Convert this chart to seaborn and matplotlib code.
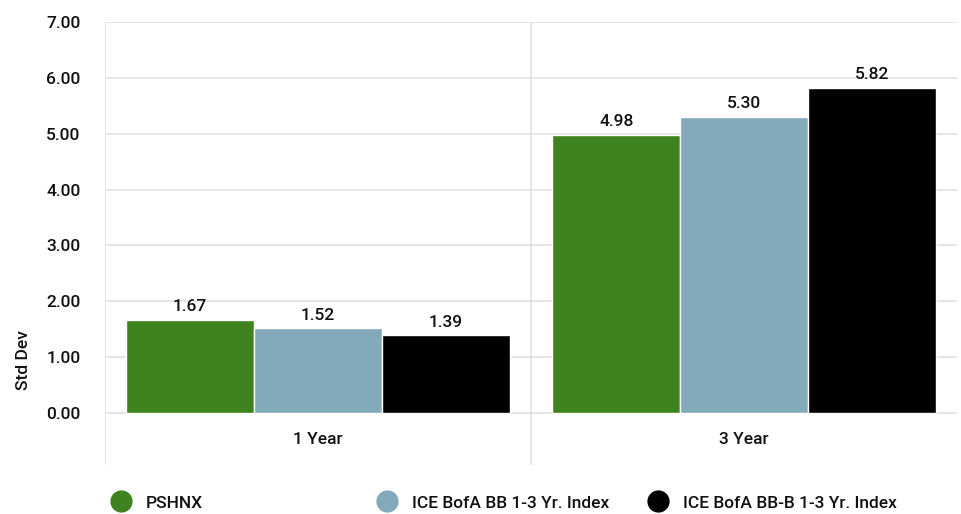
import matplotlib
matplotlib.use('Agg')
import matplotlib.pyplot as plt
from matplotlib.lines import Line2D
import seaborn as sns
import pandas as pd

# Data
periods = ['1 Year', '3 Year']
series = ['PSHNX', 'ICE BofA BB 1-3 Yr. Index', 'ICE BofA BB-B 1-3 Yr. Index']
pshnx = [1.67, 4.98]
bb_index = [1.52, 5.30]
bbb_index = [1.39, 5.82]
y_ticks = [0, 1, 2, 3, 4, 5, 6, 7]

colors = ['#3f831e', '#82aabb', '#000000']
grid_col = '#e0e0e0'

sns.set_style('white')
plt.rcParams['font.family'] = ['Roboto', 'DejaVu Sans']
plt.rcParams['font.weight'] = 'medium'
plt.rcParams['text.color'] = '#111111'

rows = []
for s, vals in zip(series, [pshnx, bb_index, bbb_index]):
    for p, v in zip(periods, vals):
        rows.append({'period': p, 'series': s, 'value': v})
df = pd.DataFrame(rows)

fig = plt.figure(figsize=(9.61, 5.14), dpi=100)
ax = fig.add_axes([0.1093, 0.0953, 0.8866, 0.862])

# gridlines first so bars sit on top
ax.hlines(y_ticks, -0.5, 1.5, colors=grid_col, linewidth=1.2, zorder=0)
ax.vlines([-0.5, 0.5], -0.93, 7, colors=grid_col, linewidth=1.2, zorder=0)

sns.barplot(data=df, x='period', y='value', hue='series', hue_order=series,
            palette=colors, saturation=1, width=0.9, edgecolor='white', linewidth=1,
            legend=False, ax=ax, zorder=2)

for cont in ax.containers:
    ax.bar_label(cont, fmt='%.2f', padding=4, fontsize=12.5, color='#111111')

ax.set_xlim(-0.5, 1.5)
ax.set_ylim(-0.93, 7)
ax.set_yticks(y_ticks)
ax.set_yticklabels([f'{t:.2f}' for t in y_ticks], fontsize=12.5, color='#111111')
ax.tick_params(axis='y', length=9.5, width=1.2, color=grid_col, pad=8)
ax.set_xticks([])
ax.set_xlabel('')
ax.set_ylabel('')
for sp in ax.spines.values():
    sp.set_visible(False)

for i, p in enumerate(periods):
    ax.text(i, -0.48, p, ha='center', va='center', fontsize=12.5)

fig.text(0.024, 1 - 360 / 514, 'Std Dev', rotation=90, ha='center', va='center', fontsize=12.5)

# legend, one entry each to match uneven spacing
leg_x = [0.108, 0.385, 0.667]
for x, s, c in zip(leg_x, series, colors):
    h = Line2D([], [], marker='o', linestyle='', markersize=15, color=c)
    fig.legend(handles=[h], labels=[s], loc='center left', bbox_to_anchor=(x, 1 - 503 / 514),
               frameon=False, fontsize=12.5, handlelength=1, handletextpad=0.9, borderpad=0)

fig.savefig('out.png', dpi=100)
